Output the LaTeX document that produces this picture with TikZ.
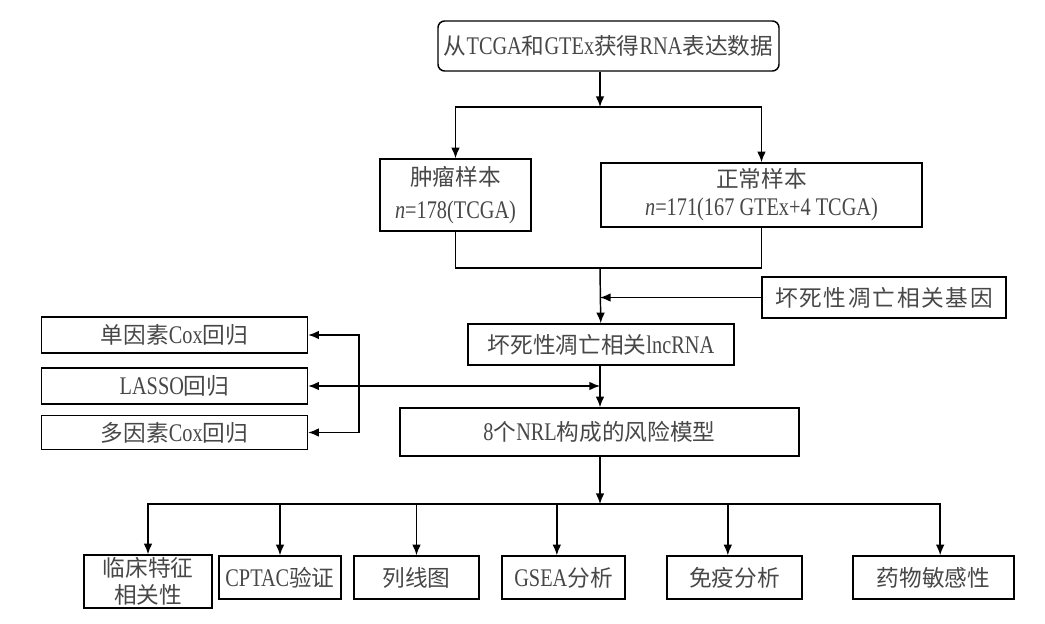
\documentclass[tikz,border=0pt]{standalone}
\usepackage{fontspec}
\setmainfont{Liberation Serif}[FakeStretch=0.8,Scale=1.12]
\newfontfamily\cjk{Noto Sans CJK SC}
\newcommand\zh[1]{{\cjk #1}}
\newcommand\chgap{\hspace{1.3pt}}
\usetikzlibrary{arrows.meta}
\usetikzlibrary{calc}
\tikzset{> = {Latex[length=8pt,width=6.5pt]}, color=black!78}
\tikzset{box/.style={draw, line width=1.1pt, inner sep=0pt, align=center, text=black!72, font=\fontsize{17}{25}\selectfont},
	wh/.style 2 args={minimum width=#1*0.75pt, minimum height=#2*0.75pt}}

\begin{document}
\begin{tikzpicture}[x=0.75pt,y=-0.75pt,line width=1.1pt]
	\useasboundingbox (0,0) rectangle (1045,624);
	\node[box,wh={341}{50},rounded corners=5pt] (src) at (608.5,46) {\zh{从}TCGA\zh{和}GTEx\zh{获得}RNA\zh{表达数据}};
	\node[box,wh={151}{72}] (tumor) at (455.5,195) {\zh{肿瘤样本}\\\textit{n}=178(TCGA)};
	\node[box,wh={321}{64},font=\fontsize{17}{21}\selectfont] (normal) at (761.5,195) {\zh{正常样本}\\\textit{n}=171(167 GTEx+4 TCGA)};
	\node[box,wh={244}{41}] (genes) at (884,297.5) {\zh{坏\chgap 死\chgap 性\chgap 凋\chgap 亡\chgap 相\chgap 关\chgap 基\chgap 因}};
	\node[box,wh={266}{41}] (lnc) at (601,344.5) {\zh{坏死性凋亡相关}lncRNA};
	\node[box,wh={399}{48}] (model) at (599.5,432) {8\zh{个}NRL\zh{构成的风险模型}};
	\node[box,wh={266}{36}] (uni) at (174.5,335) {\zh{单因素}Cox\zh{回归}};
	\node[box,wh={266}{36}] (lasso) at (174.5,386) {LASSO\zh{回归}};
	\node[box,wh={266}{34}] (multi) at (174.5,432.5) {\zh{多因素}Cox\zh{回归}};
	\node[box,wh={128}{53},font=\fontsize{17}{20}\selectfont] (clin) at (148,581.5) {\zh{临床特征}\\\zh{相关性}};
	\node[box,wh={122}{43}] (cptac) at (280,577.5) {CPTAC\zh{验证}};
	\node[box,wh={125}{43}] (nomo) at (416.5,577.5) {\zh{列线图}};
	\node[box,wh={123}{43}] (gsea) at (563.5,577.5) {GSEA\zh{分析}};
	\node[box,wh={135}{43}] (immu) at (734.5,577.5) {\zh{免疫分析}};
	\node[box,wh={161}{43}] (drug) at (933.5,577.5) {\zh{药物敏感性}};
	\coordinate (split) at (600,107);
	\coordinate (join) at (600,268);
	\coordinate (brk) at (359,386);
	\coordinate (bus) at (600,504);
	\draw[->] (src.south -| split)--(split);
	\draw[->] (split)-|(tumor);
	\draw[->] (split)-|(normal);
	\draw (tumor)|-(join)-|(normal);
	\draw[->] (join)--(lnc);
	\draw[->] (genes)--(genes -| join);
	\draw[->] (lnc.south -| join)--(model.north -| join);
	\draw[<->] (lasso)--(lasso -| join);
	\draw[<->] (uni)-|(brk)|-(multi);
	\draw[->] (model.south -| bus)--(bus);
	\draw[->] (bus)-|(clin);
	\draw[->] (bus)-|(cptac);
	\draw[->] (bus)-|(nomo);
	\draw[->] (bus)-|([xshift=-5pt]gsea.north);
	\draw[->] (bus)-|([xshift=-5pt]immu.north);
	\draw[->] (bus)-|([xshift=5pt]drug.north);
\end{tikzpicture}
\end{document}
